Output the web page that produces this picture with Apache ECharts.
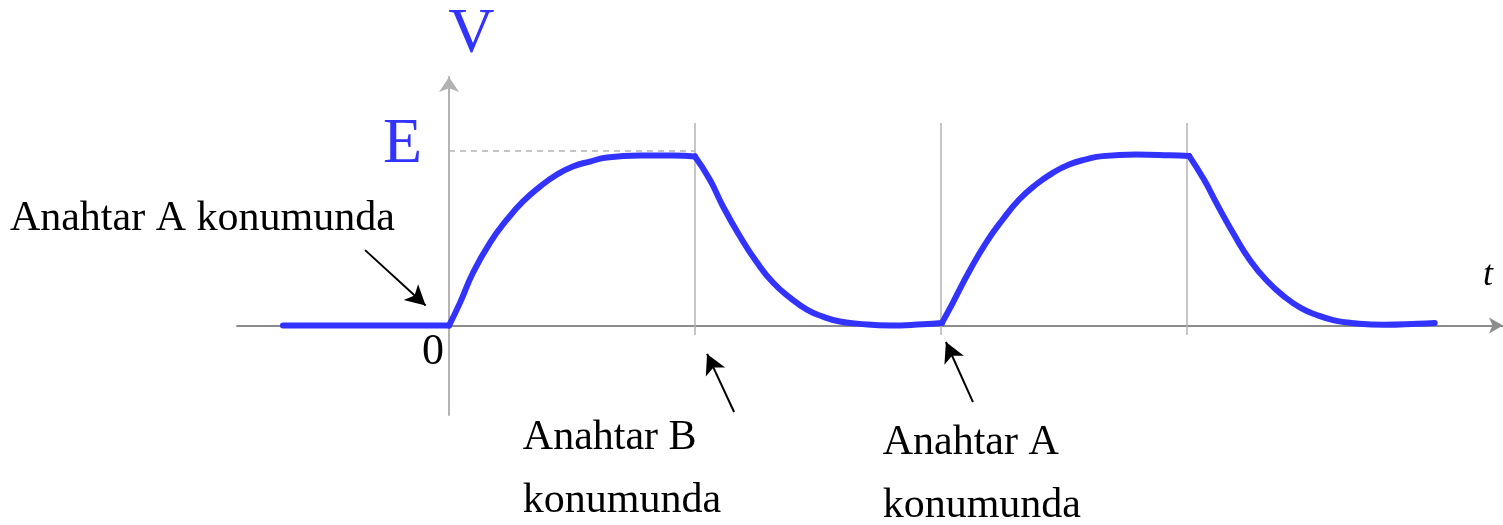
<!DOCTYPE html>
<html>
<head>
<meta charset="utf-8">
<script src="https://cdn.jsdelivr.net/npm/echarts@6/dist/echarts.min.js"></script>
<style>
    html, body { margin: 0; padding: 0; background: #fff; }
    #chart { width: 1503px; height: 525px; }
</style>
</head>
<body>
<div id="chart"></div>
<script>
// V(t) ölçülen eğri parçaları: [t, V/E]
var offSegment = [[-0.675, 0], [0, 0]];
var rise1 = [[0, 0], [0.045, 0.131], [0.098, 0.303], [0.167, 0.474], [0.236, 0.606], [0.301, 0.709],
    [0.370, 0.794], [0.439, 0.863], [0.504, 0.909], [0.573, 0.937], [0.642, 0.960], [0.776, 0.971],
    [0.911, 0.971], [1.0, 0.966]];
var fall1 = [[1.0, 0.966], [1.060, 0.834], [1.114, 0.680], [1.183, 0.509], [1.252, 0.360], [1.317, 0.246],
    [1.386, 0.160], [1.455, 0.091], [1.520, 0.051], [1.589, 0.023], [1.659, 0.011], [1.793, 0.0],
    [1.927, 0.008], [2.004, 0.015]];
var rise2 = [[2.004, 0.015], [2.048, 0.130], [2.115, 0.310], [2.183, 0.473], [2.251, 0.606], [2.318, 0.720],
    [2.386, 0.806], [2.454, 0.872], [2.521, 0.920], [2.589, 0.949], [2.657, 0.968], [2.793, 0.977],
    [2.928, 0.973], [3.009, 0.968]];
var fall2 = [[3.009, 0.968], [3.069, 0.834], [3.123, 0.691], [3.191, 0.520], [3.259, 0.368], [3.327, 0.253],
    [3.394, 0.167], [3.462, 0.101], [3.530, 0.059], [3.598, 0.030], [3.666, 0.015], [3.801, 0.004],
    [3.937, 0.010], [4.007, 0.015]];

// anahtar değişim anları ve E seviyesi
var switchTimes = [1, 2, 3];
var levelE = 1;

var blue = '#3333ff';
var serif = '"Liberation Serif", "Times New Roman", serif';

// yazılar (veri koordinatlarında konum)
var annotations = [
    { text: 'V', at: [0.091, 1.66], align: 'center', size: 64, color: blue },
    { text: 'E', at: [-0.268, 1.031], align: 'left', size: 64, color: blue },
    { text: '0', at: [-0.020, -0.151], align: 'right', size: 44, color: '#000' },
    { text: 't', at: [4.224, 0.283], align: 'center', size: 36, color: '#000', italic: true },
    { text: 'Anahtar A konumunda', at: [-1.785, 0.609], align: 'left', size: 42, color: '#000' },
    { text: 'Anahtar B', at: [0.300, -0.643], align: 'left', size: 42, color: '#000' },
    { text: 'konumunda', at: [0.300, -1.003], align: 'left', size: 42, color: '#000' },
    { text: 'Anahtar A', at: [1.763, -0.671], align: 'left', size: 42, color: '#000' },
    { text: 'konumunda', at: [1.763, -1.031], align: 'left', size: 42, color: '#000' }
];
// oklar: [kuyruk, uç]
var arrows = [
    [[-0.341, 0.431], [-0.095, 0.114]],
    [[1.159, -0.494], [1.049, -0.162]],
    [[2.130, -0.437], [2.020, -0.094]]
];

function curveSeries(data) {
    return {
        type: 'line',
        data: data,
        smooth: 0.5,
        symbol: 'none',
        silent: true,
        lineStyle: { color: blue, width: 6, cap: 'round', join: 'round' },
        z: 5
    };
}

var chart = echarts.init(document.getElementById('chart'));

var guides = switchTimes.map(t => [
    { coord: [t, -0.054] },
    { coord: [t, 1.157] }
]);
guides.push([
    { coord: [0, levelE], lineStyle: { type: [6, 5], color: '#b3b3b3', width: 1.5 } },
    { coord: [1, levelE] }
]);

var option = {
    animation: false,
    backgroundColor: '#fff',
    grid: { left: 237, right: 0, top: 77, bottom: 110 },
    xAxis: {
        type: 'value',
        min: -0.8618,
        max: 4.2846,
        axisLine: {
            onZero: true,
            symbol: ['none', 'arrow'],
            symbolSize: [12, 14],
            lineStyle: { color: '#8c8c8c', width: 2 }
        },
        axisTick: { show: false },
        axisLabel: { show: false },
        splitLine: { show: false }
    },
    yAxis: {
        type: 'value',
        min: -0.511,
        max: 1.42,
        axisLine: {
            onZero: true,
            symbol: ['none', 'arrow'],
            symbolSize: [15, 15],
            lineStyle: { color: '#b3b3b3', width: 2 }
        },
        axisTick: { show: false },
        axisLabel: { show: false },
        splitLine: { show: false }
    },
    series: [
        curveSeries(offSegment),
        curveSeries(rise1),
        curveSeries(fall1),
        curveSeries(rise2),
        curveSeries(fall2),
        {
            // kılavuz çizgiler
            type: 'line',
            data: [],
            silent: true,
            markLine: {
                silent: true,
                animation: false,
                symbol: ['none', 'none'],
                label: { show: false },
                lineStyle: { color: '#b3b3b3', width: 1.5, type: 'solid' },
                data: guides
            },
            z: 2
        },
        {
            // oklar
            type: 'line',
            data: [],
            silent: true,
            markLine: {
                silent: true,
                animation: false,
                symbol: ['none', 'arrow'],
                symbolSize: [16, 20],
                label: { show: false },
                lineStyle: { color: '#000', width: 2, type: 'solid' },
                itemStyle: { color: '#000' },
                data: arrows.map(a => [{ coord: a[0] }, { coord: a[1] }])
            },
            z: 6
        }
    ]
};
chart.setOption(option);

// yazıları eksen ölçeğinden piksel konumuna çevir
var graphics = annotations.map(a => {
    var p = chart.convertToPixel({ gridIndex: 0 }, a.at);
    return {
        type: 'text',
        x: p[0],
        y: p[1],
        silent: true,
        style: {
            text: a.text,
            fill: a.color,
            font: (a.italic ? 'italic ' : '') + a.size + 'px ' + serif,
            align: a.align,
            verticalAlign: 'middle'
        },
        z: 10
    };
});
chart.setOption({ graphic: graphics });
</script>
</body>
</html>
